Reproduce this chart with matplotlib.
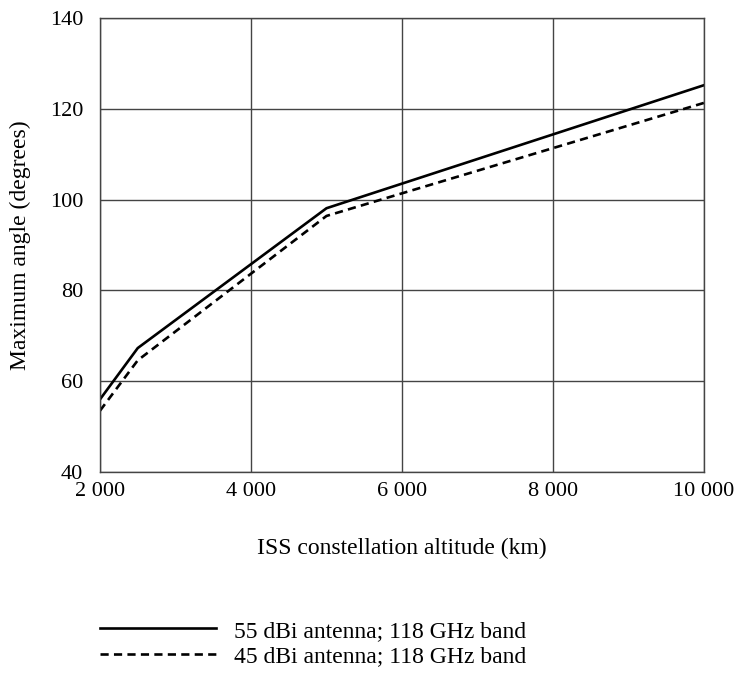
import matplotlib
matplotlib.use("Agg")
import matplotlib.pyplot as plt

plt.rcParams['font.family'] = ['Liberation Serif', 'DejaVu Serif']
plt.rcParams['font.size'] = 16

# data
altitude = [2000, 2500, 5000, 10000]
angle_55dbi = [56.0, 67.3, 98.1, 125.2]
angle_45dbi = [53.5, 64.6, 96.4, 121.3]

xticks = [2000, 4000, 6000, 8000, 10000]
xtick_labels = ["2 000", "4 000", "6 000", "8 000", "10 000"]
yticks = [40, 60, 80, 100, 120, 140]

fig = plt.figure(figsize=(7.39, 6.84), dpi=100)
ax = fig.add_axes([0.1353, 0.3099, 0.8173, 0.6638])

ax.plot(altitude, angle_55dbi, color="black", lw=1.9, linestyle="-",
        label="55 dBi antenna; 118 GHz band")
ax.plot(altitude, angle_45dbi, color="black", lw=1.9, linestyle=(0, (3.1, 2.0)),
        label="45 dBi antenna; 118 GHz band")

ax.set_xlim(2000, 10000)
ax.set_ylim(40, 140)
ax.set_xticks(xticks)
ax.set_xticklabels(xtick_labels)
ax.set_yticks(yticks)
ax.grid(True, color="#444444", lw=1)
ax.set_axisbelow(True)
ax.tick_params(axis="x", length=0, pad=7)
ax.tick_params(axis="y", length=0, pad=12)
for s in ax.spines.values():
    s.set_color("#444444")
    s.set_linewidth(1)

ax.set_xlabel("ISS constellation altitude (km)", fontsize=17, labelpad=27)
ax.set_ylabel("Maximum angle (degrees)", fontsize=17, labelpad=14)

fig.legend(loc="center left", bbox_to_anchor=(0.106, 0.0592),
           frameon=False, fontsize=17, handlelength=4.95, handletextpad=0.75,
           labelspacing=0.15)

fig.savefig("out.png", dpi=100)
